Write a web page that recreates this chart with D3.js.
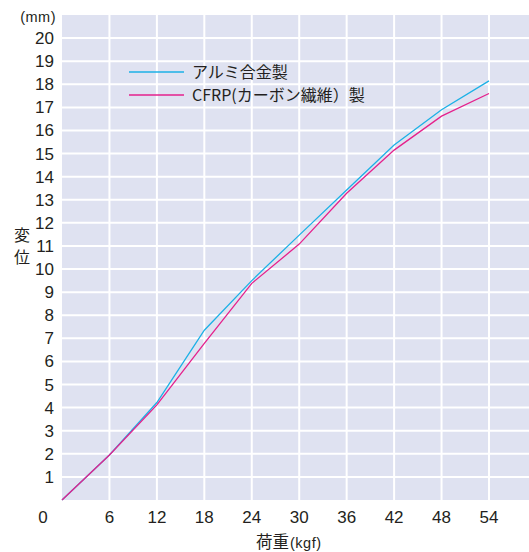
<!DOCTYPE html>
<html>
<head>
<meta charset="utf-8">
<script src="https://cdn.jsdelivr.net/npm/d3@7"></script>
<style>
  body { margin: 0; background: #fff; }
  text { fill: #231f20; }
</style>
</head>
<body>
<div id="chart"></div>
<script>
// load (kgf) and displacement (mm)
const loads = [0, 6, 12, 18, 24, 30, 36, 42, 48, 54];
const aluminium = [0, 1.95, 4.22, 7.35, 9.5, 11.47, 13.42, 15.37, 16.9, 18.15];
const cfrp = [0, 1.95, 4.12, 6.78, 9.38, 11.08, 13.28, 15.15, 16.62, 17.6];
const xTicks = [6, 12, 18, 24, 30, 36, 42, 48, 54];
const yTicks = [1, 2, 3, 4, 5, 6, 7, 8, 9, 10, 11, 12, 13, 14, 15, 16, 17, 18, 19, 20];
const seriesNames = ["アルミ合金製", "CFRP(カーボン繊維）製"];
const seriesColors = ["#1cb1e6", "#e5218c"];

const width = 529, height = 552;
const svg = d3.select("#chart").append("svg")
    .attr("width", width)
    .attr("height", height);

const x = d3.scaleLinear().domain([0, 59.06]).range([62, 529]);
const y = d3.scaleLinear().domain([0, 21]).range([500, 15]);

// plot background
svg.append("rect")
    .attr("x", x(0)).attr("y", y(21))
    .attr("width", x(59.06) - x(0)).attr("height", y(0) - y(21))
    .attr("fill", "#dfe2f1");

// grid
svg.selectAll(".vgrid").data(xTicks).enter().append("line")
    .attr("x1", d => x(d)).attr("x2", d => x(d))
    .attr("y1", y(0)).attr("y2", y(21))
    .attr("stroke", "#fff").attr("stroke-width", 2);
svg.selectAll(".hgrid").data(yTicks).enter().append("line")
    .attr("x1", x(0)).attr("x2", x(59.06))
    .attr("y1", d => y(d)).attr("y2", d => y(d))
    .attr("stroke", "#fff").attr("stroke-width", 2);

const numFont = "'Liberation Sans', Arial, sans-serif";
const jpFont = "'Noto Sans CJK JP', sans-serif";

// y tick labels
svg.selectAll(".ylab").data(yTicks).enter().append("text")
    .attr("x", 54).attr("y", d => y(d) + 6)
    .attr("text-anchor", "end")
    .style("font-family", numFont).style("font-size", "17px")
    .text(d => d);

// x tick labels
svg.selectAll(".xlab").data(xTicks).enter().append("text")
    .attr("x", d => x(d)).attr("y", 523)
    .attr("text-anchor", "middle")
    .style("font-family", numFont).style("font-size", "17px")
    .text(d => d);

// shared origin label
svg.append("text")
    .attr("x", 43).attr("y", 523)
    .attr("text-anchor", "middle")
    .style("font-family", numFont).style("font-size", "17px")
    .text(0);

// units / axis titles
svg.append("text")
    .attr("x", 56).attr("y", 22)
    .attr("text-anchor", "end")
    .style("font-family", numFont).style("font-size", "14.5px")
    .style("letter-spacing", "0.5px")
    .text("(mm)");

svg.append("text")
    .attr("x", 22).attr("y", 241)
    .attr("text-anchor", "middle")
    .style("font-family", jpFont).style("font-size", "16px")
    .text("変");
svg.append("text")
    .attr("x", 22).attr("y", 263)
    .attr("text-anchor", "middle")
    .style("font-family", jpFont).style("font-size", "16px")
    .text("位");

const xTitle = svg.append("text")
    .attr("x", 256).attr("y", 548)
    .style("font-family", jpFont).style("font-size", "16.5px");
xTitle.append("tspan").text("荷重");
xTitle.append("tspan").attr("dx", 1)
    .style("font-family", numFont).style("font-size", "14.5px")
    .style("letter-spacing", "0.5px")
    .text("(kgf)");

// lines
const line = d3.line()
    .x((d, i) => x(loads[i]))
    .y(d => y(d));

[aluminium, cfrp].forEach((s, i) => {
    svg.append("path")
        .attr("d", line(s))
        .attr("fill", "none")
        .attr("stroke", seriesColors[i])
        .attr("stroke-width", 1.3);
});

// legend
const legend = svg.selectAll(".legend").data(seriesNames).enter().append("g")
    .attr("transform", (d, i) => `translate(129, ${72 + i * 23})`);
legend.append("line")
    .attr("x1", 0).attr("x2", 55)
    .attr("stroke", (d, i) => seriesColors[i])
    .attr("stroke-width", 1.3);
legend.append("text")
    .attr("x", 63).attr("y", 6)
    .style("font-family", jpFont).style("font-size", "16px")
    .text(d => d);
</script>
</body>
</html>
